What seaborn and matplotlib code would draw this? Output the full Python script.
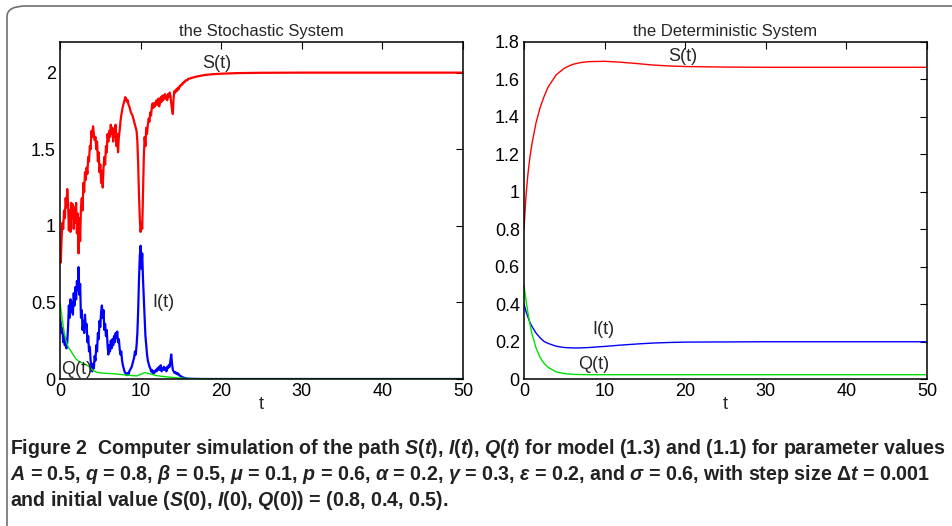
import numpy as np
import pandas as pd
import matplotlib
matplotlib.use("Agg")
import matplotlib.pyplot as plt
import matplotlib.font_manager as fm
from matplotlib.patches import FancyBboxPatch
import seaborn as sns

# stochastic path (step 0.1 up to t=16, then sparse)
t_noisy = [round(0.1 * k, 1) for k in range(161)]
S_noisy = [0.80, 0.76, 0.92, 1.02, 0.98, 1.10, 1.05, 1.18, 1.12, 1.24,
           1.15, 0.97, 1.10, 0.96, 1.15, 1.05, 1.14, 0.98, 1.12, 1.02,
           1.15, 0.95, 1.08, 0.82, 1.05, 0.90, 1.12, 1.18, 1.10, 1.28,
           1.22, 1.35, 1.30, 1.38, 1.34, 1.45, 1.42, 1.52, 1.50, 1.62,
           1.58, 1.65, 1.60, 1.56, 1.58, 1.50, 1.55, 1.42, 1.48, 1.35,
           1.40, 1.28, 1.36, 1.25, 1.38, 1.45, 1.40, 1.52, 1.48, 1.60,
           1.55, 1.62, 1.58, 1.66, 1.60, 1.64, 1.55, 1.63, 1.58, 1.66,
           1.52, 1.60, 1.48, 1.58, 1.62, 1.68, 1.72, 1.75, 1.78, 1.80,
           1.82, 1.84, 1.83, 1.81, 1.82, 1.79, 1.78, 1.76, 1.74, 1.73,
           1.72, 1.70, 1.68, 1.66, 1.64, 1.62, 1.55, 1.40, 1.20, 1.05,
           0.96, 1.02, 0.98, 1.20, 1.45, 1.58, 1.52, 1.64, 1.60, 1.66,
           1.70, 1.68, 1.74, 1.72, 1.78, 1.80, 1.77, 1.80, 1.78, 1.81,
           1.82, 1.79, 1.83, 1.78, 1.80, 1.84, 1.81, 1.85, 1.82, 1.84,
           1.86, 1.83, 1.85, 1.82, 1.86, 1.84, 1.87, 1.85, 1.80, 1.76,
           1.73, 1.84, 1.88, 1.87, 1.89, 1.88, 1.90, 1.89, 1.91, 1.91,
           1.92, 1.92, 1.93, 1.93, 1.94, 1.94, 1.95, 1.95, 1.95, 1.96,
           1.96]
I_noisy = [0.40, 0.36, 0.30, 0.33, 0.24, 0.28, 0.22, 0.26, 0.20, 0.24,
           0.34, 0.48, 0.40, 0.52, 0.44, 0.50, 0.42, 0.56, 0.48, 0.60,
           0.52, 0.64, 0.58, 0.73, 0.55, 0.62, 0.40, 0.45, 0.32, 0.38,
           0.30, 0.42, 0.33, 0.36, 0.24, 0.28, 0.18, 0.21, 0.12, 0.08,
           0.05, 0.10, 0.07, 0.15, 0.12, 0.22, 0.18, 0.30, 0.26, 0.38,
           0.34, 0.44, 0.48, 0.40, 0.45, 0.32, 0.36, 0.28, 0.32, 0.22,
           0.16, 0.22, 0.18, 0.25, 0.20, 0.26, 0.22, 0.28, 0.24, 0.30,
           0.27, 0.31, 0.24, 0.26, 0.20, 0.16, 0.18, 0.12, 0.09, 0.07,
           0.05, 0.04, 0.03, 0.025, 0.04, 0.03, 0.05, 0.06, 0.07, 0.08,
           0.10, 0.12, 0.14, 0.18, 0.16, 0.22, 0.30, 0.45, 0.65, 0.80,
           0.87, 0.72, 0.82, 0.65, 0.52, 0.40, 0.28, 0.22, 0.16, 0.12,
           0.10, 0.08, 0.07, 0.05, 0.06, 0.04, 0.05, 0.04, 0.05, 0.06,
           0.05, 0.07, 0.06, 0.08, 0.06, 0.09, 0.05, 0.07, 0.06, 0.08,
           0.06, 0.07, 0.05, 0.08, 0.07, 0.09, 0.08, 0.12, 0.16, 0.10,
           0.06, 0.05, 0.04, 0.045, 0.035, 0.04, 0.03, 0.035, 0.025, 0.02,
           0.018, 0.015, 0.012, 0.010, 0.008, 0.006, 0.005, 0.004, 0.003, 0.002,
           0.002]
t_tail = [16.5, 17, 17.5, 18, 19, 20, 22, 25, 30, 40, 50]
S_tail = [1.968, 1.975, 1.980, 1.985, 1.990, 1.993, 1.997, 1.999, 2.0, 2.0, 2.0]
I_tail = [0.001, 0.001, 0.0, 0.0, 0.0, 0.0, 0.0, 0.0, 0.0, 0.0, 0.0]

t_Q = [0, 0.25, 0.5, 0.75, 1, 1.5, 2, 2.5, 3, 3.5, 4, 4.5, 5, 5.5, 6, 7, 8,
       9, 9.5, 10, 10.5, 11, 12, 13, 14, 15, 16, 18, 20, 50]
Q_stoch = [0.50, 0.40, 0.31, 0.25, 0.21, 0.17, 0.13, 0.11, 0.10, 0.085, 0.06,
           0.045, 0.040, 0.038, 0.036, 0.033, 0.027, 0.022, 0.020, 0.030,
           0.042, 0.036, 0.022, 0.015, 0.010, 0.006, 0.003, 0.001, 0.0, 0.0]

# deterministic system
t_det = [0, 0.25, 0.5, 0.75, 1, 1.5, 2, 2.5, 3, 4, 5, 6, 7, 8, 10, 12, 14,
         16, 18, 20, 25, 30, 40, 50]
S_det = [0.80, 0.98, 1.10, 1.19, 1.26, 1.37, 1.45, 1.51, 1.56, 1.625, 1.66,
         1.68, 1.69, 1.695, 1.697, 1.692, 1.685, 1.677, 1.672, 1.669, 1.666,
         1.665, 1.665, 1.665]
I_det = [0.40, 0.36, 0.33, 0.30, 0.28, 0.245, 0.22, 0.20, 0.19, 0.175, 0.168,
         0.166, 0.166, 0.168, 0.174, 0.181, 0.187, 0.192, 0.195, 0.197, 0.198,
         0.199, 0.199, 0.199]
Q_det = [0.50, 0.42, 0.35, 0.29, 0.24, 0.165, 0.115, 0.083, 0.062, 0.038,
         0.029, 0.025, 0.024, 0.023, 0.023, 0.023, 0.023, 0.023, 0.023, 0.023,
         0.023, 0.023, 0.023, 0.023]

RED, BLUE, GREEN = "#ff0000", "#0000ff", "#00e000"

sns.set_theme(style="white")
names = {f.name for f in fm.fontManager.ttflist}
plt.rcParams["font.family"] = ["Liberation Sans", "DejaVu Sans"]
cap_font = "Liberation Sans Narrow" if "Liberation Sans Narrow" in names else "Liberation Sans"
plt.rcParams["mathtext.fontset"] = "custom"
plt.rcParams["mathtext.rm"] = cap_font + ":bold"
plt.rcParams["mathtext.it"] = cap_font + ":italic:bold"
plt.rcParams["mathtext.bf"] = cap_font + ":bold"

fig = plt.figure(figsize=(9.52, 5.26), dpi=100)
W, H = 952, 526
ax1 = fig.add_axes([60 / W, 1 - 379 / H, 403 / W, 337 / H])
ax2 = fig.add_axes([524 / W, 1 - 379 / H, 403 / W, 337 / H])

stoch = pd.DataFrame({"t": t_noisy + t_tail, "S": S_noisy + S_tail, "I": I_noisy + I_tail})
sns.lineplot(data=stoch, x="t", y="S", ax=ax1, color=RED, lw=1.6, estimator=None, sort=False)
sns.lineplot(data=stoch, x="t", y="I", ax=ax1, color=BLUE, lw=1.6, estimator=None, sort=False)
sns.lineplot(x=t_Q, y=Q_stoch, ax=ax1, color=GREEN, lw=1.0, estimator=None, sort=False)

det = pd.DataFrame({"t": t_det, "S": S_det, "I": I_det, "Q": Q_det})
sns.lineplot(data=det, x="t", y="S", ax=ax2, color=RED, lw=1.0, estimator=None, sort=False)
sns.lineplot(data=det, x="t", y="I", ax=ax2, color=BLUE, lw=1.0, estimator=None, sort=False)
sns.lineplot(data=det, x="t", y="Q", ax=ax2, color=GREEN, lw=1.0, estimator=None, sort=False)

for ax, ymax, yticks, title in [
    (ax1, 2.2, [0, 0.5, 1, 1.5, 2], "the Stochastic System"),
    (ax2, 1.8, [0, 0.2, 0.4, 0.6, 0.8, 1, 1.2, 1.4, 1.6, 1.8], "the Deterministic System"),
]:
    ax.set_xlim(0, 50)
    ax.set_ylim(0, ymax)
    ax.set_xticks([0, 10, 20, 30, 40, 50])
    ax.set_yticks(yticks)
    ax.set_yticklabels([("%g" % v) for v in yticks])
    ax.tick_params(direction="in", length=5, width=0.8, top=True, right=True,
                   labelsize=13, colors="black", pad=3)
    for sp in ax.spines.values():
        sp.set_color("black")
        sp.set_linewidth(1.1)
    ax.set_xlabel("t", fontsize=13, labelpad=-3)
    ax.set_ylabel("")
    ax.set_title(title, fontsize=12, pad=4)

ax1.text(19.4, 2.06, "S(t)", fontsize=13, ha="center", va="center")
ax1.text(12.8, 0.50, "I(t)", fontsize=13, ha="center", va="center")
ax1.text(2.1, 0.06, "Q(t)", fontsize=13, ha="center", va="center")
ax2.text(19.7, 1.72, "S(t)", fontsize=13, ha="center", va="center")
ax2.text(9.8, 0.265, "I(t)", fontsize=13, ha="center", va="center")
ax2.text(8.7, 0.075, "Q(t)", fontsize=13, ha="center", va="center")

cap_lines = [
    r"Figure 2  Computer simulation of the path $S(t)$, $I(t)$, $Q(t)$ for model (1.3) and (1.1) for parameter values",
    r"$A$ = 0.5, $q$ = 0.8, $\beta$ = 0.5, $\mu$ = 0.1, $p$ = 0.6, $\alpha$ = 0.2, $\gamma$ = 0.3, $\varepsilon$ = 0.2, and $\sigma$ = 0.6, with step size $\mathrm{\Delta}t$ = 0.001",
    r"and initial value ($S$(0), $I$(0), $Q$(0)) = (0.8, 0.4, 0.5).",
]
for k, line in enumerate(cap_lines):
    fig.text(10 / W, 1 - (449 + 25.5 * k) / H, line, fontsize=14.1, fontweight="bold",
             family=cap_font, ha="left", va="center", color="#222222")

frame = FancyBboxPatch((7 / W, -0.05), 1.05, 1 - 6 / H + 0.05,
                       boxstyle="round,pad=0,rounding_size=0.02",
                       transform=fig.transFigure, fill=False,
                       edgecolor="#707070", lw=1.2, clip_on=False)
fig.patches.append(frame)

fig.savefig("out.png", dpi=100)
